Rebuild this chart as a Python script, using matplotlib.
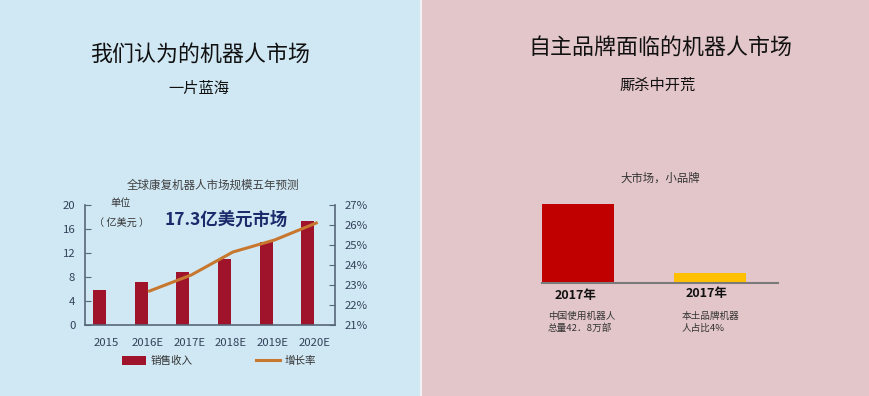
import matplotlib
matplotlib.use("Agg")
import matplotlib.pyplot as plt
from matplotlib.patches import Rectangle
import numpy as np

plt.rcParams['font.family'] = ['Noto Sans CJK SC', 'DejaVu Sans']

# ---- data ----
years = ['2015', '2016E', '2017E', '2018E', '2019E', '2020E']
sales = [5.8, 7.1, 8.8, 11.0, 13.8, 17.3]            # 亿美元
growth_years = ['2016E', '2017E', '2018E', '2019E', '2020E']
growth = [22.7, 23.5, 24.65, 25.25, 26.1]            # %
left_yticks = [0, 4, 8, 12, 16, 20]
right_yticks = [21, 22, 23, 24, 25, 26, 27]

brand_labels = ['2017年', '2017年']
brand_values = [42.8, 5.6]
brand_notes = ['中国使用机器人\n总量42．8万部', '本土品牌机器\n人占比4%']

W, H = 870, 396
fig = plt.figure(figsize=(W / 100, H / 100), dpi=100)

# backgrounds
fig.add_artist(Rectangle((0, 0), 420 / W, 1, transform=fig.transFigure,
                         facecolor='#D0E8F4', edgecolor='none', zorder=-10))
fig.add_artist(Rectangle((422 / W, 0), 1 - 422 / W, 1, transform=fig.transFigure,
                         facecolor='#E3C6C9', edgecolor='none', zorder=-10))
fig.add_artist(Rectangle((420 / W, 0), 2 / W, 1, transform=fig.transFigure,
                         facecolor='#F2F2F4', edgecolor='none', zorder=-10))

# titles
fig.text(200 / W, 1 - 55 / H, '我们认为的机器人市场', ha='center', va='center',
         fontsize=15.8, color='#111111')
fig.text(199 / W, 1 - 88 / H, '一片蓝海', ha='center', va='center',
         fontsize=11, color='#111111')
fig.text(660 / W, 1 - 48 / H, '自主品牌面临的机器人市场', ha='center', va='center',
         fontsize=15.8, color='#111111')
fig.text(658 / W, 1 - 85 / H, '厮杀中开荒', ha='center', va='center',
         fontsize=11, color='#111111')

# ---- left chart ----
ax = fig.add_axes([85 / W, 1 - 325 / H, 250 / W, 120 / H])
ax.set_facecolor('none')
x = np.arange(len(years))
bars = ax.bar(x - 0.15, sales, width=0.31, color='#A0142B', label='销售收入', zorder=2)
ax.set_xlim(-0.5, len(years) - 0.5)
ax.set_ylim(0, 20)
ax.set_yticks(left_yticks)
ax.set_xticks(x)
ax.set_xticklabels(years)
spine_c = '#56677A'
tick_c = '#33425A'
for s in ['top', 'right']:
    ax.spines[s].set_visible(False)
for s in ['left', 'bottom']:
    ax.spines[s].set_color(spine_c)
    ax.spines[s].set_linewidth(1.2)
ax.tick_params(axis='y', direction='in', length=4, color=spine_c, pad=7,
               labelsize=8.2, labelcolor=tick_c)
ax.tick_params(axis='x', length=0, pad=9, labelsize=8.2, labelcolor=tick_c)

ax2 = ax.twinx()
gx = [years.index(g) + 0.05 for g in growth_years]
line, = ax2.plot(gx, growth, color='#C8772E', linewidth=2.2, label='增长率', zorder=3)
ax2.set_ylim(21, 27)
ax2.set_yticks(right_yticks)
ax2.set_yticklabels([f'{v}%' for v in right_yticks])
for s in ['top', 'left', 'bottom']:
    ax2.spines[s].set_visible(False)
ax2.spines['right'].set_color(spine_c)
ax2.spines['right'].set_linewidth(1.2)
ax2.tick_params(axis='y', direction='in', length=4, color=spine_c, pad=7,
                labelsize=8.2, labelcolor=tick_c)

fig.text(213 / W, 1 - 185 / H, '全球康复机器人市场规模五年预测', ha='center', va='center',
         fontsize=8.3, color='#404040')
fig.text(121 / W, 1 - 203 / H, '单位', ha='center', va='center', fontsize=7.3,
         color='#333333')
fig.text(122 / W, 1 - 223 / H, '（ 亿美元 ）', ha='center', va='center', fontsize=7.3,
         color='#333333')
fig.text(226 / W, 1 - 220 / H, '17.3亿美元市场', ha='center', va='center',
         fontsize=12.5, fontweight='bold', color='#1B2A6B')

leg = ax.legend([bars, line], ['销售收入', '增长率'], loc='center',
                bbox_to_anchor=(((118 + 320) / 2 - 85) / 250, (325 - 361) / 120),
                ncol=2, frameon=False, fontsize=7.6, handlelength=2.3,
                handleheight=0.9, columnspacing=6.0, handletextpad=0.4)
for t in leg.get_texts():
    t.set_color('#333333')

# ---- right chart ----
bx = fig.add_axes([542 / W, 1 - 283 / H, 236 / W, 79 / H])
bx.set_facecolor('none')
pos = np.arange(len(brand_values))
bx.bar(pos, brand_values, width=0.545, align='edge', color=['#C00000', '#FFC000'])
bx.set_xlim(0, 1.788)
bx.set_ylim(0, 42.8)
bx.set_xticks([])
bx.set_yticks([])
for s in ['top', 'left', 'right']:
    bx.spines[s].set_visible(False)
bx.spines['bottom'].set_color('#7A7A7A')
bx.spines['bottom'].set_linewidth(1.5)

fig.text(660 / W, 1 - 178 / H, '大市场，小品牌', ha='center', va='center',
         fontsize=8.2, color='#333333')
label_x = [576, 707]
label_y = [295, 293]
note_x = [548, 682]
for i in range(len(brand_labels)):
    fig.text(label_x[i] / W, 1 - label_y[i] / H, brand_labels[i], ha='center',
             va='center', fontsize=9, fontweight='bold', color='#111111')
    fig.text(note_x[i] / W, 1 - 312 / H, brand_notes[i], ha='left', va='top',
             fontsize=6.9, color='#333333', linespacing=1.3)

fig.savefig('out.png', dpi=100)
